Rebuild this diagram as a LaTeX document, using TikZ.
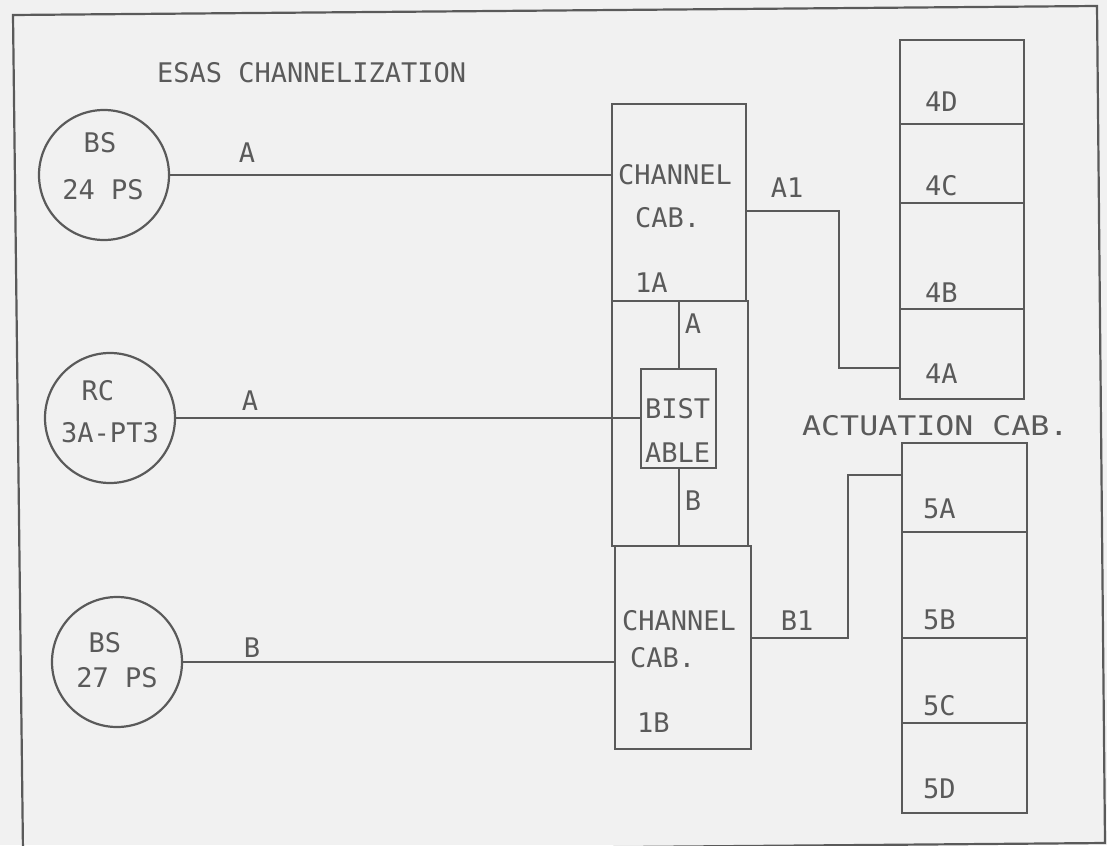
\documentclass[tikz,border=0pt]{standalone}
\usepackage{fontspec}
\newfontfamily\plotfont{DejaVu Sans Mono}
\definecolor{ink}{HTML}{5A5A5A}
\definecolor{paper}{HTML}{F1F1F1}
\tikzset{
  ln/.style={draw=ink, line width=2.2pt},
  txt/.style={text=ink, font=\plotfont\fontsize{27}{30}\selectfont, inner sep=0pt, anchor=base west},
  txtc/.style={txt, anchor=base},
  src/.style={circle, draw=ink, line width=2.2pt, minimum size=130pt, inner sep=0pt},
  cab/.style={rectangle, draw=ink, line width=2.2pt, inner sep=0pt, anchor=north west},
}
\begin{document}
\begin{tikzpicture}[x=1pt,y=-1pt]
\fill[paper] (0,0) rectangle (1107,845);
\useasboundingbox (0,0) rectangle (1107,845);
% frame
\draw[ln] (13,15) -- (1097,6) -- (1105,843) -- (23,852) -- cycle;
% sources
\node[src] (bs24) at (104,175) {};
\node[src] (rc) at (110,418) {};
\node[src] (bs27) at (117,662) {};
% channel cabinets
\node[cab, minimum width=134pt, minimum height=197pt] (cab1A) at (611,103) {};
\node[cab, minimum width=136pt, minimum height=245pt] (mid) at (611,300) {};
\node[cab, minimum width=136pt, minimum height=203pt] (cab1B) at (614,545) {};
\node[cab, minimum width=75pt, minimum height=99pt] (bist) at (640,368) {};
% actuation cabinets
\node[cab, minimum width=124pt, minimum height=84pt] (a4D) at (899,39) {};
\node[cab, minimum width=124pt, minimum height=79pt] (a4C) at (899,123) {};
\node[cab, minimum width=124pt, minimum height=106pt] (a4B) at (899,202) {};
\node[cab, minimum width=124pt, minimum height=90pt] (a4A) at (899,308) {};
\node[cab, minimum width=125pt, minimum height=89pt] (a5A) at (901,442) {};
\node[cab, minimum width=125pt, minimum height=106pt] (a5B) at (901,531) {};
\node[cab, minimum width=125pt, minimum height=85pt] (a5C) at (901,637) {};
\node[cab, minimum width=125pt, minimum height=90pt] (a5D) at (901,722) {};
% connectors
\draw[ln] (bs24.east) -- (bs24.east -| cab1A.west);
\draw[ln] (rc.east) -- (rc.east -| bist.west);
\draw[ln] (bs27.east) -- (bs27.east -| cab1B.west);
\draw[ln] (bist.north) -- (bist.north |- mid.north);
\draw[ln] (bist.south) -- (bist.south |- mid.south);
\path ([yshift=-8pt]cab1A.east) coordinate (a1s) ([yshift=-14pt]a4A.west) coordinate (a1e);
\draw[ln] (a1s) -- ++(92,0) |- (a1e);
\path ([yshift=9.5pt]cab1B.east) coordinate (b1s) ([yshift=12.5pt]a5A.west) coordinate (b1e);
\draw[ln] (b1s) -- ++(96,0) |- (b1e);
% texts
\node[txt] (title) at (157,83) {ESAS CHANNELIZATION};
\node[txtc] (t1) at (100,153) {BS};
\node[txtc] (t2) at (103,200) {24 PS};
\node[txtc] (t3) at (98,400) {RC};
\node[txtc] (t4) at (110,442) {3A-PT3};
\node[txtc] (t5) at (105,652) {BS};
\node[txtc] (t6) at (117,687) {27 PS};
\node[txtc] (la1) at (247,163) {A};
\node[txtc] (la2) at (250,410) {A};
\node[txtc] (lb1) at (252,657) {B};
\node[txtc] (la3) at (693,333) {A};
\node[txtc] (lb2) at (693,510) {B};
\node[txtc] (lA1) at (787,197) {A1};
\node[txtc] (lB1) at (797,630) {B1};
\node[txt] (c1) at (618,185) {CHANNEL};
\node[txt] (c2) at (635,227) {CAB.};
\node[txt] (c3) at (635,292) {1A};
\node[txt] (c4) at (622,630) {CHANNEL};
\node[txt] (c5) at (630,667) {CAB.};
\node[txt] (c6) at (637,732) {1B};
\node[txt] (b1) at (645,418) {BIST};
\node[txt] (b2) at (645,462) {ABLE};
\node[txt] (n4D) at (925,112) {4D};
\node[txt] (n4C) at (925,195) {4C};
\node[txt] (n4B) at (925,302) {4B};
\node[txt] (n4A) at (925,383) {4A};
\node[txt] (n5A) at (923,518) {5A};
\node[txt] (n5B) at (923,629) {5B};
\node[txt] (n5C) at (923,715) {5C};
\node[txt] (n5D) at (923,798) {5D};
\node[txt] (act) at (802,435) {\scalebox{1.17}[1]{ACTUATION CAB.}};
\end{tikzpicture}
\end{document}
